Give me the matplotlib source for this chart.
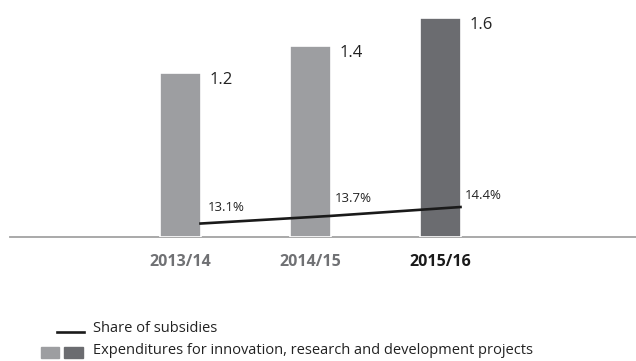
#!/usr/bin/env python3
"""Expenditures for innovation, R&D projects with share of subsidies."""

import matplotlib
matplotlib.use("Agg")
import matplotlib.pyplot as plt
from matplotlib.lines import Line2D
from matplotlib.patches import Rectangle

plt.rcParams['font.family'] = ['Open Sans', 'DejaVu Sans']

years = ['2013/14', '2014/15', '2015/16']
expenditures = [1.2, 1.4, 1.6]
subsidy_share = [13.1, 13.7, 14.4]

LIGHT = '#9d9ea1'
DARK = '#6b6c70'
TICK_GREY = '#707174'

W, H = 636, 361
fig = plt.figure(figsize=(W / 100, H / 100), dpi=100)


def fx(px):
    return px / W


def fy(py):
    return 1 - py / H


# main axes: baseline at y=237 px, starts at x=10 px,
# bar centres every 130 px starting at x=180
base_y = 237
left_px = 10
ax = fig.add_axes([fx(left_px), fy(base_y), 1 - fx(left_px), base_y / H])
step = 130.0
ax.set_xlim((left_px - 180) / step, (W - 180) / step)
ax.set_ylim(0, base_y / 136.7)

xs = list(range(len(years)))
bar_w = 41 / step
colors = [LIGHT, LIGHT, DARK]
ax.bar(xs, expenditures, width=bar_w, color=colors, edgecolor='white',
       linewidth=1.2, zorder=3)

for x, v in zip(xs, expenditures):
    ax.annotate(f'{v:.1f}', (x + bar_w / 2, v), xytext=(9, -7),
                textcoords='offset pixels', ha='left', va='center',
                fontsize=12, color='#222222')

for side in ['left', 'right', 'top']:
    ax.spines[side].set_visible(False)
ax.spines['bottom'].set_color('#a3a3a3')
ax.spines['bottom'].set_linewidth(1.3)
ax.spines['bottom'].set_zorder(1)
ax.set_yticks([])
ax.set_xticks(xs)
ax.set_xticklabels(years, fontsize=11.5, fontweight='bold')
ax.tick_params(axis='x', length=0, pad=12)
for i, lbl in enumerate(ax.get_xticklabels()):
    lbl.set_color('#1a1a1a' if i == len(years) - 1 else TICK_GREY)

# subsidy share on its own scale
ax2 = ax.twinx()
ax2.set_ylim(12.04, 12.04 + base_y / 12.7)
ax2.axis('off')
line_x = [x + bar_w / 2 for x in xs]
ax2.plot(line_x, subsidy_share, color='#1a1a1a', linewidth=1.9, zorder=4)
offsets = [(7, 16), (4, 17), (4, 12)]
for x, v, off in zip(line_x, subsidy_share, offsets):
    ax2.annotate(f'{v:.1f}%', (x, v), xytext=off, textcoords='offset pixels',
                 ha='left', va='center', fontsize=9.5, color='#222222')

# legend
fig.add_artist(Line2D([fx(57), fx(84)], [fy(332), fy(332)], color='#1a1a1a',
                      linewidth=1.9, transform=fig.transFigure))
fig.text(fx(93), fy(328), 'Share of subsidies', fontsize=10.5,
         color='#222222', va='center', ha='left')
fig.add_artist(Rectangle((fx(41), fy(358)), fx(18), 11 / H, color=LIGHT,
                         transform=fig.transFigure))
fig.add_artist(Rectangle((fx(64), fy(358)), fx(19), 11 / H, color=DARK,
                         transform=fig.transFigure))
fig.text(fx(93), fy(351),
         'Expenditures for innovation, research and development projects',
         fontsize=10.5, color='#222222', va='center', ha='left')

fig.savefig('out.png', dpi=100)
